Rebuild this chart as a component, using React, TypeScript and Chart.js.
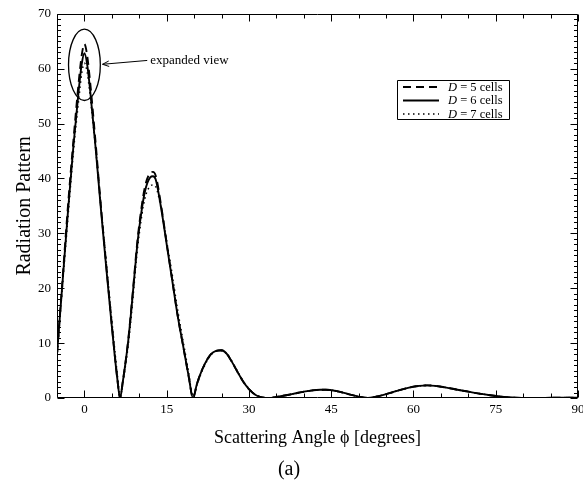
import React, { useEffect, useRef } from "react";
import { Chart, registerables } from "chart.js";

Chart.register(...registerables);

// ---- data ----
const angles = [
  -5, -4, -3, -2, -1, -0.5, 0, 0.5, 1, 2,
  3, 4, 5, 5.5, 6, 6.5, 7, 7.5, 8, 8.5,
  9, 9.5, 10, 11, 12, 12.5, 13, 14, 15, 16,
  17, 18, 19, 19.8, 20.5, 21, 22, 23, 24, 25,
  26, 27, 28, 29, 30, 31, 32, 33, 33.7, 35,
  37, 39, 41, 43, 44, 46, 48, 50, 51.7, 53,
  55, 57, 59, 61, 62.5, 64, 66, 68, 70, 72,
  74, 76, 78, 80, 82, 84, 86, 88, 90,
];

const d5 = [
  8, 21.5, 35, 47, 58, 62.4, 64.5, 62.4, 58, 47,
  35, 24, 13.3, 8.2, 3.5, 0, 3, 6.6, 10.7, 15.8,
  21.3, 27, 31.6, 38.3, 41, 41.2, 40.5, 35, 28.2, 21.6,
  15, 9.5, 4, 0, 2.5, 4, 6.3, 7.9, 8.6, 8.7,
  8.0, 6.4, 4.6, 2.9, 1.6, 0.7, 0.2, 0.02, 0, 0.2,
  0.55, 0.95, 1.3, 1.5, 1.5, 1.25, 0.75, 0.25, 0, 0.2,
  0.7, 1.3, 1.85, 2.2, 2.3, 2.2, 1.9, 1.5, 1.15, 0.8,
  0.5, 0.25, 0.08, 0.02, 0, 0.02, 0.05, 0.06, 0.05,
];

const d6 = [
  8, 21, 34, 46, 56.5, 60.8, 62.8, 60.8, 56.5, 46,
  34.5, 23.5, 13, 8, 3.5, 0, 3, 6.5, 10.5, 15.5,
  21, 26.5, 31, 37.5, 40.2, 40.4, 39.8, 34.5, 28, 21.5,
  15, 9.5, 4, 0, 2.5, 4, 6.3, 7.9, 8.6, 8.7,
  8.0, 6.4, 4.6, 2.9, 1.6, 0.7, 0.2, 0.02, 0, 0.2,
  0.55, 0.95, 1.3, 1.5, 1.5, 1.25, 0.75, 0.25, 0, 0.2,
  0.7, 1.3, 1.85, 2.2, 2.3, 2.2, 1.9, 1.5, 1.15, 0.8,
  0.5, 0.25, 0.08, 0.02, 0, 0.02, 0.05, 0.06, 0.05,
];

const d7 = [
  7.5, 20.5, 33, 45, 54.8, 59.2, 61, 59.4, 55.5, 46,
  35, 24.5, 14, 9, 4.2, 0.3, 2.7, 6, 9.8, 14.5,
  20, 25.5, 30, 36.3, 38.6, 38.8, 38.5, 34.5, 28.5, 22.5,
  16, 10.3, 4.6, 0.3, 2.3, 3.8, 6.1, 7.8, 8.5, 8.6,
  8.0, 6.5, 4.7, 3.0, 1.7, 0.75, 0.22, 0.03, 0, 0.2,
  0.55, 0.95, 1.3, 1.5, 1.5, 1.25, 0.75, 0.25, 0, 0.2,
  0.7, 1.3, 1.85, 2.2, 2.3, 2.2, 1.9, 1.5, 1.15, 0.8,
  0.5, 0.25, 0.08, 0.02, 0, 0.02, 0.05, 0.06, 0.05,
];

const cellCounts = ["5", "6", "7"];
const xTicks = [0, 15, 30, 45, 60, 75, 90];
const yTicks = [0, 10, 20, 30, 40, 50, 60, 70];
const xTitle = "Scattering Angle \u03D5 [degrees]";
const yTitle = "Radiation Pattern";
const caption = "(a)";
const noteText = "expanded view";
// ellipse annotation (data units): centre angle, centre value, half-width, half-height
const noteEllipse = { x: 0, y: 60.7, rx: 2.9, ry: 6.5 };
const noteTextPos = { x: 12, y: 61.5 };
const noteArrowTip = { x: 3.3, y: 60.8 };

const SERIF = "'Liberation Serif', 'Times New Roman', Times, serif";

const dashStyles: number[][] = [[8, 5], [], [1.5, 3.5]];
const widths = [1.9, 1.9, 1.6];

const decorPlugin = {
  id: "decor",
  afterDatasetsDraw(chart: any) {
    const { ctx, chartArea, scales } = chart;
    const { left, right, top, bottom } = chartArea;
    const xs = scales.x;
    const ys = scales.y;
    ctx.save();
    ctx.strokeStyle = "#000";
    ctx.fillStyle = "#000";
    ctx.lineWidth = 1;
    ctx.setLineDash([]);
    const L = Math.round(left) + 0.5;
    const R = Math.round(right) - 0.5;
    const T = Math.round(top) + 0.5;
    const B = Math.round(bottom) - 0.5;
    ctx.beginPath();
    ctx.rect(L, T, R - L, B - T);
    ctx.stroke();

    // x ticks (major every 15, minor every 5)
    ctx.beginPath();
    for (let v = xs.min; v <= xs.max + 1e-6; v += 5) {
      const px = Math.round(xs.getPixelForValue(v)) + 0.5;
      const len = Math.abs(v % 15) < 1e-6 ? 7 : 4;
      ctx.moveTo(px, B);
      ctx.lineTo(px, B - len);
      ctx.moveTo(px, T);
      ctx.lineTo(px, T + len);
    }
    // y ticks (major every 10, minor every 1)
    for (let v = ys.min; v <= ys.max + 1e-6; v += 1) {
      const py = Math.round(ys.getPixelForValue(v)) + 0.5;
      const len = Math.abs(v % 10) < 1e-6 ? 7 : 3.5;
      ctx.moveTo(L, py);
      ctx.lineTo(L + len, py);
      ctx.moveTo(R, py);
      ctx.lineTo(R - len, py);
    }
    ctx.stroke();

    // ellipse annotation
    const cx = xs.getPixelForValue(noteEllipse.x);
    const cy = ys.getPixelForValue(noteEllipse.y);
    const rx = Math.abs(xs.getPixelForValue(noteEllipse.x + noteEllipse.rx) - cx);
    const ry = Math.abs(ys.getPixelForValue(noteEllipse.y + noteEllipse.ry) - cy);
    ctx.lineWidth = 1.3;
    ctx.beginPath();
    ctx.ellipse(cx, cy, rx, ry, 0, 0, Math.PI * 2);
    ctx.stroke();

    // arrow
    const tx = xs.getPixelForValue(noteTextPos.x);
    const ty = ys.getPixelForValue(noteTextPos.y);
    const ax = xs.getPixelForValue(noteArrowTip.x);
    const ay = ys.getPixelForValue(noteArrowTip.y);
    const sx = tx - 3;
    const sy = ty;
    ctx.lineWidth = 1;
    ctx.beginPath();
    ctx.moveTo(sx, sy);
    ctx.lineTo(ax, ay);
    const ang = Math.atan2(sy - ay, sx - ax);
    const hl = 7;
    ctx.moveTo(ax + hl * Math.cos(ang + 0.4), ay + hl * Math.sin(ang + 0.4));
    ctx.lineTo(ax, ay);
    ctx.lineTo(ax + hl * Math.cos(ang - 0.4), ay + hl * Math.sin(ang - 0.4));
    ctx.stroke();

    ctx.font = `13px ${SERIF}`;
    ctx.textAlign = "left";
    ctx.textBaseline = "middle";
    ctx.fillText(noteText, tx, ty);

    // legend
    const bx = 397.5, by = 80.5, bw = 112, bh = 39;
    ctx.lineWidth = 1;
    ctx.beginPath();
    ctx.rect(bx, by, bw, bh);
    ctx.stroke();
    const rows = [87, 100.5, 114];
    chart.data.datasets.forEach((ds: any, i: number) => {
      const yy = rows[i];
      ctx.save();
      ctx.lineWidth = ds.borderWidth;
      ctx.setLineDash(ds.borderDash || []);
      ctx.beginPath();
      ctx.moveTo(403, yy);
      ctx.lineTo(439, yy);
      ctx.stroke();
      ctx.restore();
      ctx.textBaseline = "middle";
      ctx.font = `italic 12.5px ${SERIF}`;
      ctx.fillText("D", 448, yy + 0.5);
      const w = ctx.measureText("D").width;
      ctx.font = `12.5px ${SERIF}`;
      ctx.fillText(` = ${cellCounts[i]} cells`, 448 + w, yy + 0.5);
    });
    ctx.restore();
  },
};

export default function App() {
  const ref = useRef<HTMLCanvasElement | null>(null);
  useEffect(() => {
    if (!ref.current) return;
    const series = [d5, d6, d7];
    const chart = new Chart(ref.current, {
      type: "line",
      data: {
        datasets: series.map((arr, i) => ({
          label: `D = ${cellCounts[i]} cells`,
          data: angles.map((a, j) => ({ x: a, y: arr[j] })),
          borderColor: "#000",
          borderWidth: widths[i],
          borderDash: dashStyles[i],
          pointRadius: 0,
          fill: false,
          cubicInterpolationMode: "monotone",
          order: i === 1 ? 0 : i === 0 ? 1 : 2,
        })),
      },
      options: {
        responsive: false,
        maintainAspectRatio: false,
        animation: false,
        events: [],
        layout: { padding: { top: 13, right: 22, left: 0, bottom: 0 } },
        plugins: {
          legend: { display: false },
          tooltip: { enabled: false },
          title: {
            display: true,
            text: caption,
            position: "bottom",
            color: "#000",
            font: { family: SERIF, size: 20, weight: "normal" },
            padding: { top: 0, bottom: 7 },
          },
        },
        scales: {
          x: {
            type: "linear",
            min: -5,
            max: 90,
            grid: { display: false, drawTicks: false },
            border: { display: false },
            afterBuildTicks: (s: any) => {
              s.ticks = xTicks.map((value) => ({ value }));
            },
            afterFit: (s: any) => {
              s.height = 60;
            },
            ticks: {
              color: "#000",
              padding: 4,
              maxRotation: 0,
              autoSkip: false,
              font: { family: SERIF, size: 13 },
            },
            title: {
              display: true,
              text: xTitle,
              color: "#000",
              font: { family: SERIF, size: 18 },
              padding: { top: 0, bottom: 9 },
            },
          },
          y: {
            type: "linear",
            min: 0,
            max: 70,
            grid: { display: false, drawTicks: false },
            border: { display: false },
            afterBuildTicks: (s: any) => {
              s.ticks = yTicks.map((value) => ({ value }));
            },
            afterFit: (s: any) => {
              s.width = 57;
            },
            ticks: {
              color: "#000",
              padding: 6,
              autoSkip: false,
              font: { family: SERIF, size: 13 },
            },
            title: {
              display: true,
              text: yTitle,
              color: "#000",
              font: { family: SERIF, size: 20 },
              padding: { top: 13, bottom: 0 },
            },
          },
        },
      },
      plugins: [decorPlugin],
    } as any);
    return () => chart.destroy();
  }, []);

  return (
    <div
      style={{
        position: "fixed",
        left: 0,
        top: 0,
        width: 583,
        height: 489,
        overflow: "hidden",
        background: "#fff",
      }}
    >
      <canvas ref={ref} width={600} height={489} style={{ display: "block" }} />
    </div>
  );
}
